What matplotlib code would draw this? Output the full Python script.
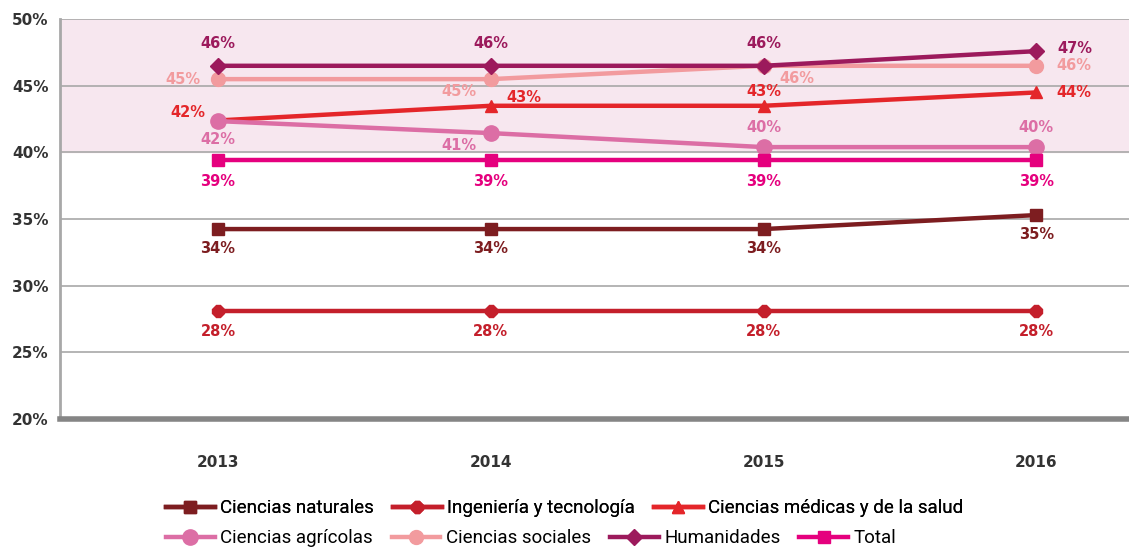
import matplotlib
matplotlib.use("Agg")
import matplotlib.pyplot as plt
from matplotlib.lines import Line2D

plt.rcParams["font.family"] = ["DejaVu Sans"]

years = [2013, 2014, 2015, 2016]
naturales = [34.25, 34.25, 34.25, 35.3]
ingenieria = [28.1, 28.1, 28.1, 28.1]
medicas = [42.4, 43.5, 43.5, 44.5]
agricolas = [42.35, 41.45, 40.4, 40.4]
sociales = [45.5, 45.5, 46.5, 46.5]
humanidades = [46.5, 46.5, 46.5, 47.6]
total = [39.4, 39.4, 39.4, 39.4]

lab_naturales = ["34%", "34%", "34%", "35%"]
lab_ingenieria = ["28%", "28%", "28%", "28%"]
lab_medicas = ["42%", "43%", "43%", "44%"]
lab_agricolas = ["42%", "41%", "40%", "40%"]
lab_sociales = ["45%", "45%", "46%", "46%"]
lab_humanidades = ["46%", "46%", "46%", "47%"]
lab_total = ["39%", "39%", "39%", "39%"]

# (name, values, labels, color, marker, markersize, label offsets in points)
series = [
    ("Ciencias naturales", naturales, lab_naturales, "#7d1d20", "s", 9,
     [(0, -14), (0, -14), (0, -14), (0, -14)]),
    ("Ingeniería y tecnología", ingenieria, lab_ingenieria, "#c41f2b", "8", 9,
     [(0, -15), (0, -15), (0, -15), (0, -15)]),
    ("Ciencias médicas y de la salud", medicas, lab_medicas, "#e4262a", "^", 9,
     [(-22, 6), (24, 6), (0, 10), (27, 0)]),
    ("Ciencias agrícolas", agricolas, lab_agricolas, "#dc6ea5", "o", 11,
     [(0, -13), (-23, -9), (0, 14), (0, 14)]),
    ("Ciencias sociales", sociales, lab_sociales, "#f29b9e", "o", 10,
     [(-25, 0), (-23, -9), (24, -9), (27, 0)]),
    ("Humanidades", humanidades, lab_humanidades, "#9c1a5c", "D", 8,
     [(0, 16), (0, 16), (0, 16), (28, 2)]),
    ("Total", total, lab_total, "#e5007e", "s", 9,
     [(0, -15), (0, -15), (0, -15), (0, -15)]),
]

fig = plt.figure(figsize=(11.29, 5.47), dpi=100)
ax = fig.add_axes([0.053, 0.234, 0.947, 0.731])

ax.axhspan(40, 50, color="#f7e7ef", zorder=0)
for y in [25, 30, 35, 40, 45, 50]:
    ax.axhline(y, color="#a8a8a8", lw=1.2, zorder=1)

handles = []
for name, vals, labs, color, mk, ms, offs in series:
    ax.plot(years, vals, color=color, lw=3.2, marker=mk, markersize=ms, zorder=3)
    for x, v, t, off in zip(years, vals, labs, offs):
        ax.annotate(t, (x, v), xytext=off, textcoords="offset points",
                    ha="center", va="center", fontsize=10.5, fontweight="bold",
                    color=color, zorder=4)
    handles.append(Line2D([], [], color=color, lw=3.2, marker=mk, markersize=ms, label=name))

ax.set_xlim(2012.42, 2016.34)
ax.set_ylim(20, 50)
ax.set_yticks([20, 25, 30, 35, 40, 45, 50])
ax.set_yticklabels(["20%", "25%", "30%", "35%", "40%", "45%", "50%"])
ax.set_xticks(years)
ax.set_xticklabels([str(y) for y in years])
ax.tick_params(axis="x", length=0, pad=26)
ax.tick_params(axis="y", length=0, pad=8)
for lab in ax.get_xticklabels() + ax.get_yticklabels():
    lab.set_fontweight("bold")
    lab.set_fontsize(11)
    lab.set_color("#333333")

for s in ["top", "right"]:
    ax.spines[s].set_visible(False)
ax.spines["left"].set_color("#a8a8a8")
ax.spines["left"].set_linewidth(2)
ax.spines["bottom"].set_color("#858585")
ax.spines["bottom"].set_linewidth(4)

leg_font = {"family": ["Roboto", "DejaVu Sans"], "size": 13.5}
leg1 = fig.legend(handles=handles[:3], loc="center left", bbox_to_anchor=(0.147, 0.071),
                  ncol=3, frameon=False, prop=leg_font, handlelength=2.6,
                  handletextpad=0.3, columnspacing=1.0, borderaxespad=0, borderpad=0)
leg2 = fig.legend(handles=handles[3:], loc="center left", bbox_to_anchor=(0.147, 0.016),
                  ncol=4, frameon=False, prop=leg_font, handlelength=2.6,
                  handletextpad=0.3, columnspacing=1.0, borderaxespad=0, borderpad=0)
fig.add_artist(leg1)

plt.savefig("out.png", dpi=100)
